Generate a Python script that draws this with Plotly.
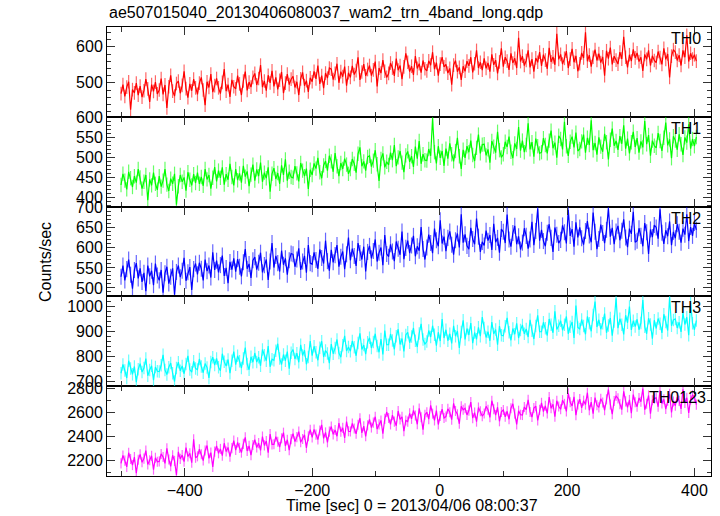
import plotly.graph_objects as go

# ---------------- data (3 s bins) ----------------
TIME_START = -500
TIME_BIN = 3

th0 = [
    470, 495, 462, 488, 503, 425, 481, 472, 499, 466,
    491, 460, 478, 510, 483, 447, 495, 476, 502, 469,
    480, 512, 468, 494, 430, 489, 521, 477, 463, 498,
    505, 471, 493, 532, 484, 459, 497, 478, 510, 486,
    468, 499, 515, 480, 438, 503, 487, 524, 474, 492,
    512, 486, 470, 501, 538, 477, 495, 461, 508, 489,
    483, 520, 497, 466, 505, 531, 479, 502, 488, 515,
    526, 494, 512, 549, 488, 505, 478, 521, 500, 533,
    490, 515, 482, 507, 530, 471, 499, 524, 495, 510,
    518, 487, 503, 466, 511, 529, 492, 506, 475, 514,
    503, 532, 511, 548, 497, 520, 485, 527, 513, 541,
    538, 509, 526, 553, 500, 531, 517, 545, 492, 528,
    515, 547, 523, 534, 571, 508, 530, 552, 519, 537,
    548, 520, 536, 559, 490, 541, 527, 563, 532, 515,
    526, 555, 541, 519, 567, 535, 548, 510, 544, 582,
    557, 531, 546, 522, 574, 540, 553, 528, 562, 539,
    533, 561, 549, 585, 538, 556, 520, 552, 571, 544,
    551, 527, 540, 495, 549, 562, 531, 543, 508, 546,
    532, 560, 547, 571, 529, 553, 590, 541, 557, 535,
    568, 540, 555, 531, 579, 550, 563, 526, 558, 596,
    545, 571, 560, 536, 582, 555, 568, 541, 625, 559,
    574, 548, 562, 590, 543, 566, 531, 569, 557, 585,
    547, 578, 563, 539, 597, 558, 572, 550, 636, 565,
    579, 552, 568, 588, 541, 566, 594, 557, 575, 532,
    553, 583, 569, 640, 560, 577, 545, 571, 592, 562,
    581, 556, 572, 520, 589, 567, 598, 551, 574, 563,
    552, 585, 566, 628, 571, 543, 578, 560, 593, 569,
    583, 559, 571, 533, 579, 565, 590, 548, 575, 562,
    556, 587, 570, 551, 596, 565, 580, 515, 574, 592,
    585, 562, 577, 548, 590, 571, 632, 559, 582, 566,
    578, 560,
]

th1 = [
    430, 458, 441, 419, 463, 447, 425, 452, 436, 470,
    449, 421, 438, 455, 392, 444, 429, 461, 433, 418,
    452, 426, 441, 470, 431, 415, 446, 433, 458, 381,
    427, 455, 438, 449, 416, 462, 443, 429, 457, 435,
    461, 433, 450, 428, 470, 444, 455, 421, 448, 475,
    439, 466, 448, 474, 431, 457, 443, 483, 450, 429,
    470, 442, 459, 436, 478, 451, 464, 427, 456, 481,
    441, 469, 452, 486, 438, 461, 447, 474, 413, 458,
    472, 445, 460, 433, 479, 455, 494, 441, 463, 450,
    448, 477, 459, 439, 485, 466, 452, 471, 420, 468,
    455, 484, 471, 498, 462, 447, 479, 490, 466, 503,
    489, 463, 510, 477, 452, 485, 470, 496, 481, 458,
    470, 495, 483, 461, 508, 524, 477, 489, 466, 500,
    503, 476, 491, 517, 482, 440, 495, 509, 474, 488,
    480, 511, 492, 530, 477, 499, 515, 486, 462, 504,
    514, 488, 502, 475, 526, 496, 540, 483, 507, 492,
    491, 520, 503, 597, 512, 484, 527, 498, 515, 478,
    521, 496, 534, 507, 489, 515, 548, 502, 470, 518,
    498, 527, 512, 541, 505, 490, 523, 556, 509, 531,
    532, 504, 519, 486, 540, 526, 511, 563, 517, 499,
    507, 538, 525, 551, 513, 497, 534, 520, 575, 516,
    541, 512, 530, 584, 519, 537, 501, 546, 527, 509,
    512, 547, 530, 509, 541, 566, 522, 536, 498, 553,
    545, 519, 588, 527, 503, 538, 551, 524, 561, 515,
    520, 539, 556, 511, 548, 530, 592, 517, 535, 506,
    549, 526, 513, 558, 537, 494, 543, 571, 528, 540,
    518, 552, 533, 579, 521, 546, 509, 537, 563, 525,
    547, 511, 539, 524, 590, 532, 555, 503, 541, 528,
    523, 560, 540, 515, 548, 586, 529, 544, 497, 552,
    541, 518, 557, 532, 505, 549, 536, 582, 521, 545,
    527, 550,
]

th2 = [
    528, 556, 519, 547, 571, 533, 498, 545, 562, 524,
    549, 515, 538, 492, 556, 529, 543, 507, 561, 531,
    519, 545, 488, 537, 553, 511, 528, 549, 483, 540,
    556, 527, 543, 575, 518, 539, 552, 495, 547, 561,
    534, 563, 548, 519, 571, 542, 556, 526, 589, 545,
    568, 539, 557, 581, 530, 550, 512, 565, 546, 574,
    541, 572, 553, 529, 564, 597, 548, 560, 525, 569,
    577, 546, 563, 588, 539, 557, 571, 520, 566, 612,
    551, 580, 562, 541, 593, 558, 574, 533, 569, 586,
    584, 553, 571, 599, 545, 566, 580, 538, 607, 562,
    559, 589, 570, 548, 596, 575, 561, 618, 567, 543,
    595, 564, 582, 607, 553, 578, 591, 547, 584, 626,
    569, 598, 580, 555, 612, 587, 571, 603, 541, 590,
    605, 574, 592, 621, 566, 588, 601, 557, 632, 585,
    578, 609, 591, 567, 616, 598, 583, 641, 572, 600,
    618, 587, 606, 630, 579, 604, 593, 652, 597, 571,
    601, 633, 612, 587, 648, 619, 604, 669, 611, 628,
    592, 625, 641, 608, 583, 619, 636, 601, 684, 613,
    634, 605, 597, 650, 622, 609, 673, 628, 590, 615,
    606, 643, 618, 632, 595, 660, 614, 625, 588, 647,
    640, 612, 683, 621, 603, 637, 655, 609, 629, 596,
    613, 649, 630, 598, 621, 665, 607, 642, 698, 618,
    645, 617, 604, 638, 659, 625, 590, 651, 633, 612,
    620, 656, 639, 611, 695, 630, 647, 603, 664, 626,
    651, 624, 608, 642, 667, 631, 614, 688, 640, 597,
    622, 658, 637, 612, 645, 699, 628, 650, 609, 641,
    655, 619, 643, 671, 626, 602, 648, 635, 690, 614,
    618, 649, 630, 604, 662, 639, 585, 646, 627, 657,
    651, 623, 696, 638, 610, 644, 629, 666, 607, 640,
    624, 659, 640, 613, 648, 633, 684, 617, 652, 630,
    662, 645,
]

th3 = [
    731, 766, 742, 712, 781, 750, 727, 758, 695, 747,
    769, 736, 752, 790, 721, 744, 761, 703, 756, 739,
    738, 763, 805, 744, 726, 755, 772, 731, 698, 752,
    775, 741, 760, 729, 768, 801, 746, 735, 779, 750,
    746, 788, 758, 733, 770, 754, 712, 776, 795, 764,
    790, 755, 741, 809, 777, 760, 786, 731, 781, 818,
    765, 801, 779, 752, 790, 834, 768, 745, 797, 775,
    812, 776, 795, 761, 826, 803, 781, 840, 757, 787,
    783, 821, 849, 790, 766, 806, 781, 818, 749, 813,
    826, 788, 811, 775, 845, 802, 823, 767, 796, 860,
    801, 839, 815, 783, 833, 859, 796, 822, 810, 771,
    848, 809, 832, 866, 812, 795, 843, 881, 820, 836,
    819, 860, 835, 801, 852, 891, 826, 844, 807, 855,
    873, 832, 856, 889, 840, 815, 868, 806, 902, 845,
    845, 888, 862, 827, 879, 907, 846, 870, 818, 884,
    895, 853, 878, 912, 861, 836, 890, 929, 866, 848,
    858, 902, 876, 921, 885, 841, 895, 860, 948, 872,
    905, 861, 889, 850, 921, 879, 900, 832, 896, 943,
    866, 910, 884, 932, 851, 894, 867, 915, 879, 956,
    912, 874, 897, 861, 936, 888, 906, 845, 920, 883,
    881, 919, 953, 895, 863, 910, 887, 931, 872, 904,
    924, 889, 908, 876, 945, 901, 868, 920, 963, 897,
    897, 935, 911, 882, 948, 925, 893, 979, 906, 921,
    941, 903, 925, 958, 889, 917, 936, 872, 1002, 914,
    908, 946, 920, 887, 958, 931, 899, 964, 1018, 916,
    945, 907, 931, 970, 893, 922, 952, 881, 938, 1031,
    911, 949, 925, 886, 963, 933, 998, 904, 941, 918,
    947, 905, 932, 1024, 917, 889, 951, 926, 869, 943,
    910, 950, 929, 892, 967, 936, 902, 1035, 921, 944,
    948, 912, 935, 896, 973, 926, 955, 883, 1012, 931,
    905, 942,
]

th0123 = [
    2172, 2238, 2195, 2143, 2261, 2209, 2158, 2224, 2091, 2203,
    2247, 2181, 2212, 2279, 2163, 2198, 2235, 2120, 2219, 2186,
    2189, 2251, 2226, 2172, 2297, 2205, 2148, 2240, 2193, 2075,
    2268, 2210, 2241, 2187, 2303, 2229, 2256, 2178, 2372, 2219,
    2231, 2290, 2248, 2196, 2279, 2321, 2214, 2262, 2143, 2270,
    2318, 2256, 2293, 2237, 2340, 2271, 2305, 2228, 2299, 2362,
    2283, 2347, 2301, 2262, 2335, 2389, 2276, 2318, 2240, 2326,
    2369, 2304, 2341, 2280, 2396, 2322, 2358, 2261, 2417, 2330,
    2331, 2395, 2352, 2308, 2381, 2428, 2317, 2369, 2282, 2374,
    2419, 2354, 2391, 2437, 2348, 2376, 2410, 2302, 2398, 2453,
    2389, 2455, 2412, 2371, 2446, 2493, 2380, 2430, 2348, 2437,
    2479, 2414, 2451, 2398, 2507, 2436, 2468, 2385, 2521, 2440,
    2438, 2505, 2463, 2419, 2494, 2548, 2427, 2482, 2398, 2489,
    2539, 2471, 2512, 2561, 2458, 2497, 2530, 2419, 2543, 2600,
    2551, 2497, 2574, 2520, 2486, 2609, 2538, 2561, 2440, 2529,
    2520, 2589, 2543, 2613, 2571, 2498, 2630, 2556, 2453, 2578,
    2598, 2541, 2655, 2587, 2530, 2612, 2496, 2567, 2624, 2550,
    2562, 2627, 2598, 2537, 2672, 2609, 2581, 2502, 2648, 2619,
    2631, 2576, 2612, 2683, 2549, 2595, 2520, 2638, 2607, 2566,
    2588, 2648, 2619, 2556, 2694, 2623, 2574, 2640, 2523, 2601,
    2617, 2561, 2606, 2540, 2632, 2669, 2587, 2497, 2611, 2578,
    2575, 2642, 2620, 2702, 2601, 2558, 2633, 2649, 2530, 2618,
    2677, 2604, 2652, 2588, 2724, 2631, 2665, 2561, 2694, 2646,
    2623, 2699, 2668, 2605, 2757, 2681, 2651, 2726, 2574, 2663,
    2708, 2634, 2695, 2662, 2761, 2615, 2683, 2587, 2721, 2656,
    2639, 2711, 2680, 2615, 2706, 2788, 2663, 2582, 2692, 2733,
    2714, 2666, 2620, 2772, 2689, 2639, 2701, 2590, 2745, 2681,
    2645, 2717, 2686, 2795, 2619, 2669, 2738, 2586, 2698, 2712,
    2719, 2644, 2781, 2671, 2706, 2625, 2694, 2752, 2596, 2688,
    2653, 2724, 2693, 2626, 2790, 2676, 2719, 2593, 2705, 2741,
    2727, 2662,
]

series_names = ["TH0", "TH1", "TH2", "TH3", "TH0123"]
series_values = [th0, th1, th2, th3, th0123]
# typical 1-sigma error bar per band (counts/sec)
series_errors = [19, 18, 20, 25, 42]
series_colors = ["#ff0000", "#00ff00", "#0000ff", "#00ffff", "#ff00ff"]
series_err_colors = ["rgba(255,0,0,0.6)", "rgba(0,255,0,0.6)", "rgba(0,0,255,0.6)",
                     "rgba(0,255,255,0.6)", "rgba(255,0,255,0.6)"]

y_ranges = [[405, 655], [375, 600], [480, 702], [680, 1040], [2067, 2817]]
y_dticks = [100, 50, 50, 100, 200]
y_minor = [20, 10, 10, 20, 100]
x_range = [-522, 426]

title_text = "ae507015040_20130406080037_wam2_trn_4band_long.qdp"
x_title = "Time [sec] 0 = 2013/04/06 08:00:37"
y_title = "Counts/sec"

# ---------------- figure ----------------
W, H = 720, 516
ML, MR, MT, MB = 107, 9, 27, 40
plot_h = H - MT - MB
plot_w = W - ML - MR
panel_px = [27, 117, 207, 296, 386, 476]
domains = [[1 - (panel_px[i + 1] - MT) / plot_h, 1 - (panel_px[i] - MT) / plot_h] for i in range(5)]

FONT = "Liberation Sans, Arial, Helvetica, sans-serif"

fig = go.Figure()
n = len(th0)
times = [TIME_START + TIME_BIN * k for k in range(n)]

for i in range(5):
    suffix = "" if i == 4 else str(i + 2)
    fig.add_trace(go.Scatter(
        x=times[:len(series_values[i])], y=series_values[i], mode="lines",
        line=dict(color=series_colors[i], width=1.2),
        error_y=dict(type="constant", value=series_errors[i], color=series_err_colors[i],
                     thickness=1.2, width=0),
        xaxis="x" + suffix, yaxis="y" + suffix, showlegend=False,
        hoverinfo="skip",
    ))

layout = dict(
    width=W, height=H,
    margin=dict(l=ML, r=MR, t=MT, b=MB),
    paper_bgcolor="white", plot_bgcolor="white",
    font=dict(family=FONT, size=16, color="black"),
    showlegend=False,
)

for i in range(5):
    suffix = "" if i == 4 else str(i + 2)
    xa = dict(
        range=x_range, domain=[0, 1], anchor="y" + suffix,
        showgrid=False, zeroline=False, showline=True, linecolor="black", linewidth=1,
        mirror="allticks", ticks="inside", ticklen=8, tickwidth=1, tickcolor="#333",
        dtick=200, tick0=0,
        minor=dict(dtick=100, tick0=0, ticks="inside", ticklen=5, tickcolor="#333"),
        showticklabels=(i == 4),
        tickfont=dict(size=16),
    )
    if i != 4:
        xa["matches"] = "x"
    ya = dict(
        range=y_ranges[i], domain=domains[i], anchor="x" + suffix,
        showgrid=False, zeroline=False, showline=True, linecolor="black", linewidth=1,
        mirror="allticks", ticks="inside", ticklen=8, tickwidth=1, tickcolor="#333",
        dtick=y_dticks[i], tick0=0,
        minor=dict(dtick=y_minor[i], tick0=0, ticks="inside", ticklen=4, tickcolor="#333"),
        tickfont=dict(size=16),
    )
    layout["xaxis" + suffix] = xa
    layout["yaxis" + suffix] = ya

fig.update_layout(**layout)

ann = []
ann.append(dict(text=title_text, xref="paper", yref="paper", x=0, y=1 + (MT - 13) / plot_h,
                xanchor="left", yanchor="middle", showarrow=False, font=dict(size=16)))
ann.append(dict(text=x_title, xref="paper", yref="paper", x=(412 - ML) / plot_w,
                y=-(506 - 476) / plot_h,
                xanchor="center", yanchor="middle", showarrow=False, font=dict(size=16)))
ann.append(dict(text=y_title, xref="paper", yref="paper", x=-(ML - 45) / plot_w,
                y=1 - (262 - MT) / plot_h, textangle=-90,
                xanchor="center", yanchor="middle", showarrow=False, font=dict(size=16)))
label_right = [703, 703, 703, 703, 708]
for i in range(5):
    ann.append(dict(text=series_names[i], xref="paper", yref="paper",
                    x=(label_right[i] - ML) / plot_w,
                    y=1 - (panel_px[i] + 11 - MT) / plot_h,
                    xanchor="right", yanchor="middle", showarrow=False, font=dict(size=16)))
fig.update_layout(annotations=ann)

fig.write_html("out.html", config={"displayModeBar": False},
               post_script="document.body.style.margin='0';document.body.style.overflow='hidden';")
